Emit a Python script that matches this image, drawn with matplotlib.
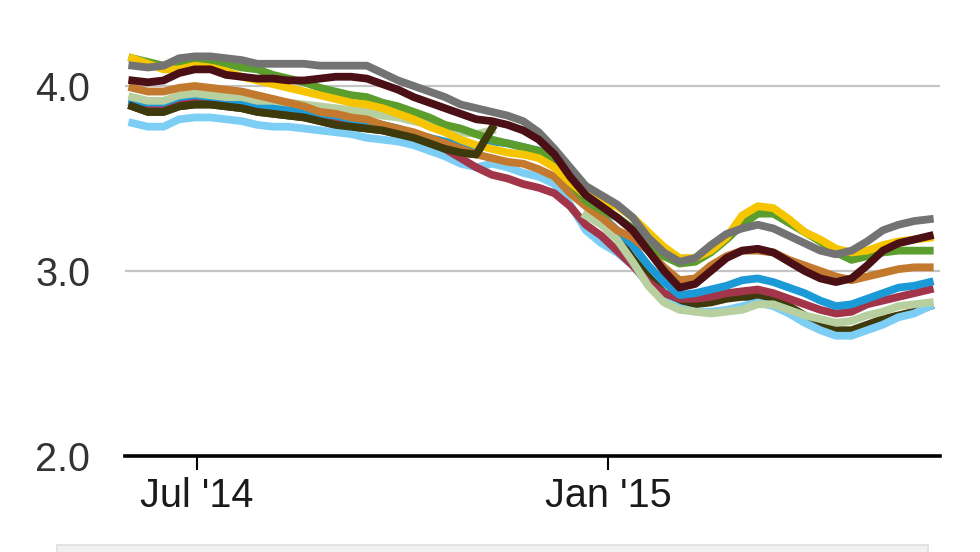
import numpy as np
import pandas as pd
import matplotlib
matplotlib.use("Agg")
import matplotlib.pyplot as plt
from matplotlib.patches import Rectangle

plt.rcParams['font.family'] = ['Liberation Sans', 'DejaVu Sans']

nan = np.nan

# weekly observations, Jun 2014 - May 2015
weeks = pd.date_range('2014-06-02', periods=52, freq='7D')

gray = [4.11, 4.10, 4.11, 4.15, 4.16, 4.16, 4.15, 4.14, 4.12, 4.12, 4.12, 4.12, 4.11,
        4.11, 4.11, 4.11, 4.07, 4.03, 4.00, 3.97, 3.94, 3.90, 3.88, 3.86, 3.84, 3.81,
        3.75, 3.66, 3.56, 3.46, 3.41, 3.36, 3.29, 3.18, 3.10, 3.05, 3.07, 3.14, 3.20,
        3.23, 3.25, 3.23, 3.19, 3.15, 3.11, 3.09, 3.11, 3.16, 3.22, 3.25, 3.27, 3.28]
maroon = [4.03, 4.02, 4.03, 4.07, 4.09, 4.09, 4.06, 4.05, 4.04, 4.04, 4.03, 4.03, 4.04,
          4.05, 4.05, 4.04, 4.01, 3.98, 3.94, 3.91, 3.88, 3.85, 3.82, 3.81, 3.79, 3.76,
          3.71, 3.63, 3.51, 3.41, 3.35, 3.29, 3.22, 3.11, 3.00, 2.91, 2.93, 3.00, 3.07,
          3.11, 3.12, 3.10, 3.05, 3.00, 2.96, 2.94, 2.96, 3.03, 3.11, 3.15, 3.17, 3.19]
yellow = [4.15, 4.12, 4.09, 4.09, 4.11, 4.10, 4.08, 4.05, 4.03, 4.01, 3.99, 3.97, 3.95,
          3.93, 3.91, 3.90, 3.88, 3.85, 3.82, 3.78, 3.75, 3.71, 3.68, 3.66, 3.64, 3.63,
          3.61, 3.56, 3.48, 3.41, 3.37, 3.35, 3.29, 3.21, 3.13, 3.07, 3.07, 3.11, 3.18,
          3.30, 3.35, 3.34, 3.28, 3.21, 3.17, 3.12, 3.10, 3.11, 3.14, 3.16, 3.17, 3.18]
green = [4.15, 4.13, 4.11, 4.12, 4.14, 4.13, 4.12, 4.10, 4.09, 4.06, 4.04, 4.02, 3.99,
         3.97, 3.95, 3.94, 3.91, 3.89, 3.86, 3.83, 3.79, 3.77, 3.74, 3.71, 3.69, 3.67,
         3.65, 3.60, 3.48, 3.38, 3.33, 3.29, 3.23, 3.16, 3.08, 3.04, 3.05, 3.10, 3.17,
         3.25, 3.31, 3.31, 3.26, 3.21, 3.16, 3.10, 3.06, 3.08, 3.10, 3.11, 3.11, 3.11]
orange = [3.99, 3.97, 3.97, 3.99, 4.00, 3.99, 3.98, 3.97, 3.95, 3.93, 3.91, 3.89, 3.86,
          3.85, 3.83, 3.82, 3.79, 3.77, 3.75, 3.72, 3.69, 3.66, 3.63, 3.61, 3.59, 3.58,
          3.55, 3.51, 3.42, 3.35, 3.29, 3.22, 3.18, 3.11, 3.02, 2.95, 2.96, 3.03, 3.08,
          3.11, 3.11, 3.10, 3.06, 3.03, 3.00, 2.97, 2.95, 2.97, 2.99, 3.01, 3.02, 3.02]
sage = [3.94, 3.92, 3.92, 3.95, 3.96, 3.95, 3.94, 3.94, 3.92, 3.92, 3.91, 3.90, 3.89,
        3.88, 3.87, 3.86, 3.84, 3.83, 3.81, 3.79, 3.77, 3.75, 3.74, 3.76, nan, nan,
        nan, nan, nan, 3.30, 3.25, 3.17, 3.05, 2.92, 2.83, 2.79, 2.78, 2.77, 2.78,
        2.79, 2.82, 2.82, 2.79, 2.76, 2.74, 2.72, 2.73, 2.76, 2.78, 2.81, 2.82, 2.83]
blue = [3.92, 3.91, 3.91, 3.94, 3.95, 3.94, 3.93, 3.92, 3.90, 3.89, 3.88, 3.87, 3.85,
        3.84, 3.82, 3.81, 3.79, 3.77, 3.74, 3.72, 3.70, 3.68, 3.67, 3.70, 3.69, 3.67,
        3.65, 3.60, 3.50, 3.39, 3.30, 3.22, 3.14, 3.03, 2.94, 2.87, 2.88, 2.90, 2.92,
        2.95, 2.96, 2.94, 2.91, 2.88, 2.84, 2.81, 2.82, 2.85, 2.88, 2.91, 2.92, 2.94]
red = [3.91, 3.89, 3.89, 3.92, 3.93, 3.92, 3.91, 3.90, 3.89, 3.88, 3.86, 3.85, 3.83,
       3.82, 3.81, 3.79, 3.78, 3.76, 3.73, 3.70, 3.66, 3.61, 3.56, 3.52, 3.50, 3.47,
       3.45, 3.42, 3.35, 3.25, 3.19, 3.11, 3.03, 2.94, 2.88, 2.85, 2.85, 2.86, 2.88,
       2.89, 2.90, 2.88, 2.85, 2.82, 2.79, 2.77, 2.78, 2.82, 2.84, 2.86, 2.88, 2.90]
light_blue = [3.80, 3.78, 3.78, 3.82, 3.83, 3.83, 3.82, 3.81, 3.79, 3.78, 3.78, 3.77, 3.76,
              3.75, 3.74, 3.72, 3.71, 3.70, 3.68, 3.65, 3.62, 3.58, 3.56, 3.58, 3.56, 3.53,
              3.51, 3.47, 3.36, 3.22, 3.15, 3.10, 3.03, 2.93, 2.84, 2.80, 2.78, 2.78, 2.79,
              2.81, 2.83, 2.81, 2.77, 2.72, 2.68, 2.65, 2.65, 2.68, 2.71, 2.75, 2.77, 2.81]
olive = [3.89, 3.86, 3.86, 3.89, 3.90, 3.90, 3.89, 3.88, 3.86, 3.85, 3.84, 3.83, 3.81,
         3.79, 3.78, 3.77, 3.76, 3.74, 3.72, 3.69, 3.66, 3.64, 3.63, 3.77, nan, nan,
         nan, nan, nan, 3.38, 3.30, 3.19, 3.07, 2.97, 2.88, 2.83, 2.82, 2.83, 2.85,
         2.86, 2.86, 2.84, 2.81, 2.76, 2.72, 2.68, 2.68, 2.71, 2.74, 2.76, 2.78, 2.81]

# the olive series sits above the others before its data gap, below them after
olive_gap = 24

# drawing order, bottom first
lines = [
    (olive, '#3f3a0b'),
    (light_blue, '#7dcef4'),
    (red, '#a2354a'),
    (blue, '#1b9ad7'),
    (sage, '#b8d0a0'),
    (orange, '#c37a2e'),
    (green, '#5b9e2e'),
    (yellow, '#f6c500'),
    (olive[:olive_gap], '#3f3a0b'),
    (gray, '#737373'),
    (maroon, '#4b0f16'),
]

fig = plt.figure(figsize=(9.8, 5.52), dpi=100)
ax = fig.add_axes([125 / 980, 96 / 552, 815 / 980, 456 / 552])

for v in (3.0, 4.0):
    ax.axhline(v, color='#c4c4c4', lw=1.6, zorder=0)

for vals, color in lines:
    ax.plot(weeks[:len(vals)], vals, color=color, lw=5.6, solid_joinstyle='round',
            solid_capstyle='projecting')

ax.set_ylim(2.0, 2.0 + 456 / 185)
ax.set_xlim(pd.Timestamp('2014-05-29 18:00').to_pydatetime(),
            pd.Timestamp('2015-05-29 14:00').to_pydatetime())

ax.set_yticks([2.0, 3.0, 4.0])
ax.set_yticklabels(['2.0', '3.0', '4.0'])
ax.tick_params(axis='y', length=0, pad=25, labelsize=28.5, labelcolor='#333333')

ax.set_xticks([pd.Timestamp('2014-07-01').to_pydatetime(),
               pd.Timestamp('2015-01-01').to_pydatetime()])
ax.set_xticklabels(["Jul '14", "Jan '15"])
ax.tick_params(axis='x', length=10, width=1.5, color='black', pad=5,
               labelsize=28.5, labelcolor='#1a1a1a')

for side in ('top', 'right', 'left'):
    ax.spines[side].set_visible(False)
ax.spines['bottom'].set_linewidth(2.6)
ax.spines['bottom'].set_color('black')

# cut-off legend box at the bottom edge
fig.patches.append(Rectangle((57 / 980, -0.05), 871 / 980, 0.05 + 7 / 552,
                             transform=fig.transFigure, facecolor='#f1f1f1',
                             edgecolor='#dedede', lw=1.2))

fig.savefig('out.png', dpi=100)
